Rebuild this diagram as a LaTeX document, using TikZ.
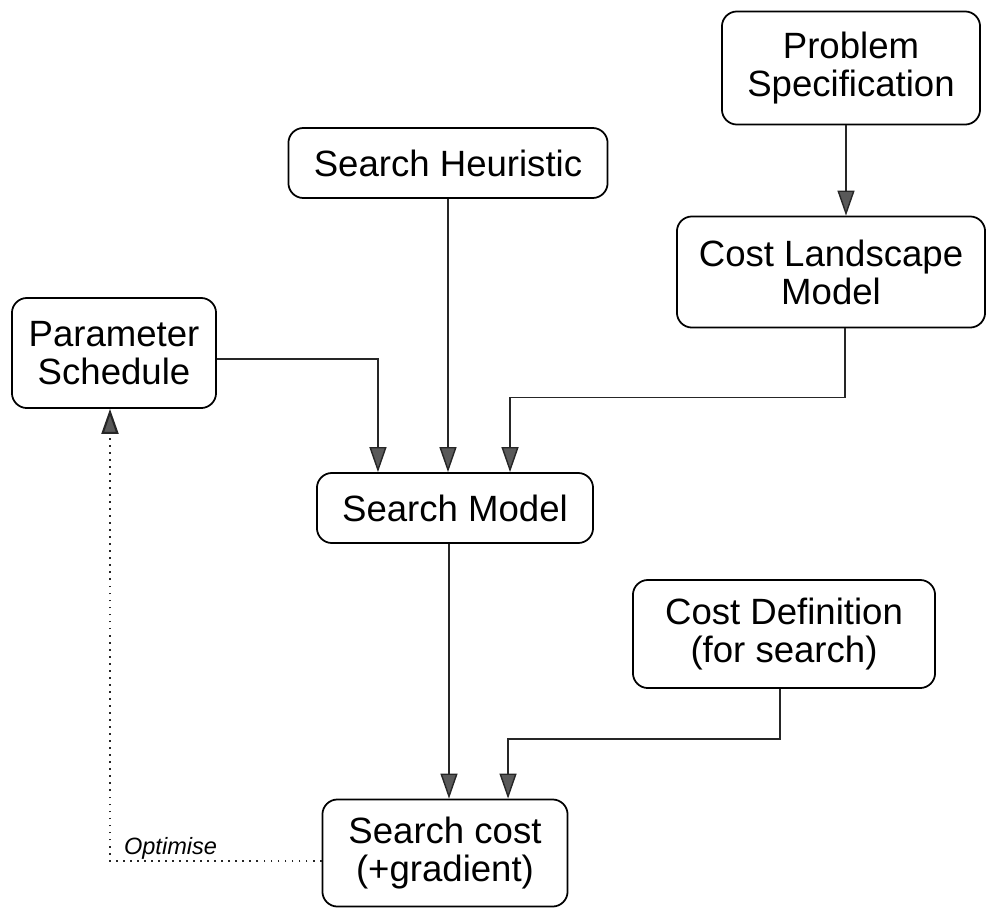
\documentclass[tikz,border=0pt]{standalone}
\usepackage{fontspec}
\setmainfont{Liberation Sans}
\usetikzlibrary{arrows.meta}

\tikzset{
    box/.style={draw=black, line width=0.5pt, rounded corners=0.15cm, align=center, inner sep=0pt, font=\fontsize{10.4}{10.8}\selectfont},
    link/.style={draw=black!85, line width=0.4pt, -{Triangle[length=0.25cm, width=0.17cm, fill=black!65]}},
    optlink/.style={link, line width=0.6pt, dash pattern=on 0.5pt off 1.5pt}
}

\begin{document}
\begin{tikzpicture}[x=0.01cm, y=-0.01cm]
        \useasboundingbox (0,0) rectangle (988,909);
        % 上方的方塊
        \node[box, minimum width=2.58cm, minimum height=1.13cm] (probspec) at (851,68) {Problem\\Specification};
        \node[box, minimum width=3.19cm, minimum height=0.70cm] (heur) at (448,163) {Search Heuristic};
        \node[box, minimum width=3.08cm, minimum height=1.11cm] (costland) at (831,272) {Cost Landscape\\Model};
        % 左側參數方塊
        \node[box, minimum width=2.04cm, minimum height=1.10cm] (param) at (114,353) {Parameter\\Schedule};
        % 中間的方塊
        \node[box, minimum width=2.76cm, minimum height=0.70cm] (smodel) at (455,508) {Search Model};
        \node[box, minimum width=3.02cm, minimum height=1.08cm] (costdef) at (784,634) {Cost Definition\\(for search)};
        % 最下方的方塊
        \node[box, minimum width=2.45cm, minimum height=1.07cm] (scost) at (445,853) {Search cost\\(+gradient)};
        % 連接線
        \draw[link] ([xshift=-0.05cm]probspec.south) -- ([xshift=-0.05cm]probspec.south |- costland.north);
        \draw[link] (heur.south) -- (heur.south |- smodel.north);
        \draw[link] ([yshift=-0.06cm]param.east) -| ([xshift=-0.77cm]smodel.north);
        \draw[link] ([xshift=0.14cm]costland.south) -- ++(0,69) -| ([xshift=0.55cm]smodel.north);
        \draw[link] ([xshift=-0.06cm]smodel.south) -- ([xshift=-0.06cm]smodel.south |- scost.north);
        \draw[link] ([xshift=-0.04cm]costdef.south) -- ++(0,50) -| ([xshift=0.63cm]scost.north);
        % 虛線回饋
        \draw[optlink] ([yshift=-0.08cm]scost.west) -- ([yshift=-0.08cm, xshift=-0.04cm]scost.west -| param.south)
            node[anchor=base west, inner sep=0pt, xshift=0.13cm, yshift=0.07cm, font=\fontsize{6.7}{8}\selectfont\itshape] (optlabel) {Optimise}
            -- ([xshift=-0.04cm]param.south);
    \end{tikzpicture}
\end{document}
